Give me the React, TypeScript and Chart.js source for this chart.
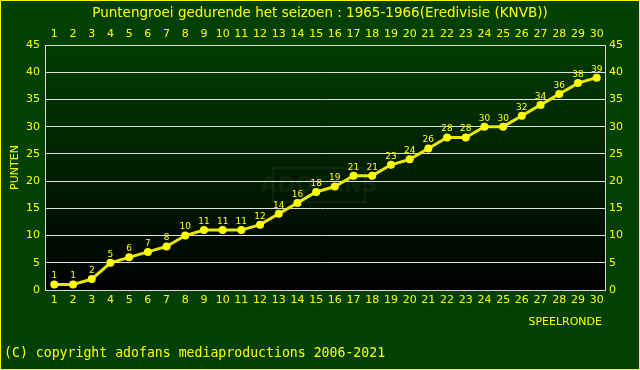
import React, { useEffect, useRef } from "react";
import { Chart, registerables } from "chart.js";

Chart.register(...registerables);

const rounds: string[] = ["1","2","3","4","5","6","7","8","9","10","11","12","13","14","15","16","17","18","19","20","21","22","23","24","25","26","27","28","29","30"];
const points: number[] = [1,1,2,5,6,7,8,10,11,11,11,12,14,16,18,19,21,21,23,24,26,28,28,30,30,32,34,36,38,39];
const titleText = "Puntengroei gedurende het seizoen : 1965-1966(Eredivisie (KNVB))";
const yTitle = "PUNTEN";
const xTitle = "SPEELRONDE";
const copyright = "(C) copyright adofans mediaproductions 2006-2021";

const YELLOW = "#ffff00";
const BG = "#004000";

const decorPlugin = {
  id: "decor",
  beforeDraw(chart: any) {
    const { ctx, width, height, chartArea } = chart;
    ctx.save();
    ctx.fillStyle = BG;
    ctx.fillRect(0, 0, width, height);
    const g = ctx.createLinearGradient(0, chartArea.top, 0, chartArea.bottom);
    g.addColorStop(0, "#003d00");
    g.addColorStop(1, "#000000");
    ctx.fillStyle = g;
    ctx.fillRect(chartArea.left, chartArea.top, chartArea.right - chartArea.left, chartArea.bottom - chartArea.top);
    // faint watermark
    ctx.strokeStyle = "rgba(70,90,50,0.18)";
    ctx.lineWidth = 2;
    ctx.strokeRect(273, 168, 92, 34);
    ctx.fillStyle = "rgba(70,90,50,0.18)";
    ctx.font = "bold 22px 'DejaVu Sans'";
    ctx.textAlign = "center";
    ctx.textBaseline = "middle";
    ctx.fillText("ADOFANS", 319, 186);
    ctx.restore();
  },
  afterDraw(chart: any) {
    const { ctx, width, height, chartArea } = chart;
    ctx.save();
    // plot border
    ctx.strokeStyle = "#d8d8d8";
    ctx.lineWidth = 1;
    ctx.strokeRect(chartArea.left + 0.5, chartArea.top + 0.5, chartArea.right - chartArea.left - 1, chartArea.bottom - chartArea.top);
    // outer border
    ctx.strokeStyle = YELLOW;
    ctx.strokeRect(0.5, 0.5, width - 1, height - 1);
    // title
    ctx.fillStyle = YELLOW;
    ctx.font = "13.5px 'DejaVu Sans'";
    ctx.textAlign = "center";
    ctx.textBaseline = "middle";
    ctx.fillText(titleText, width / 2, 13);
    // y title
    ctx.font = "11px 'DejaVu Sans'";
    ctx.save();
    ctx.translate(15, (chartArea.top + chartArea.bottom) / 2);
    ctx.rotate(-Math.PI / 2);
    ctx.fillText(yTitle, 0, 0);
    ctx.restore();
    // x title
    ctx.textAlign = "right";
    ctx.fillText(xTitle, 602, 322);
    // copyright
    ctx.textAlign = "left";
    ctx.font = "13.2px 'DejaVu Sans Mono'";
    ctx.fillText(copyright, 4, 354);
    // data labels
    const meta = chart.getDatasetMeta(0);
    ctx.font = "9px 'DejaVu Sans'";
    ctx.textAlign = "center";
    ctx.textBaseline = "bottom";
    meta.data.forEach((el: any, i: number) => {
      ctx.fillText(String(points[i]), el.x, el.y - 4);
    });
    ctx.restore();
  },
};

export default function App() {
  const ref = useRef<HTMLCanvasElement | null>(null);
  useEffect(() => {
    if (!ref.current) return;
    const tickFont = { family: "DejaVu Sans", size: 11 };
    const chart = new Chart(ref.current, {
      type: "line",
      data: {
        labels: rounds,
        datasets: [
          {
            data: points,
            borderColor: "#e8e800",
            borderWidth: 3,
            backgroundColor: YELLOW,
            pointBackgroundColor: YELLOW,
            pointBorderColor: YELLOW,
            pointRadius: 4,
            pointBorderWidth: 0,
            fill: false,
            tension: 0,
            xAxisID: "x",
            yAxisID: "y",
          },
        ],
      },
      options: {
        animation: false,
        responsive: false,
        maintainAspectRatio: false,
        layout: { padding: 0 },
        plugins: { legend: { display: false }, title: { display: false }, tooltip: { enabled: false } },
        scales: {
          x: {
            type: "category",
            position: "bottom",
            offset: true,
            grid: { display: false, drawTicks: false },
            border: { display: false },
            ticks: { color: YELLOW, font: tickFont, padding: 4, maxRotation: 0, autoSkip: false },
            afterFit: (s: any) => { s.height = 80; },
          },
          x2: {
            type: "category",
            position: "top",
            labels: rounds,
            offset: true,
            grid: { display: false, drawTicks: false },
            border: { display: false },
            ticks: { color: YELLOW, font: tickFont, padding: 4, maxRotation: 0, autoSkip: false },
            afterFit: (s: any) => { s.height = 45; },
          },
          y: {
            position: "left",
            min: 0,
            max: 45,
            grid: { color: "#e0e0e0", drawTicks: false, lineWidth: 1 },
            border: { display: false },
            ticks: { color: YELLOW, font: tickFont, stepSize: 5, padding: 5 },
            afterFit: (s: any) => { s.width = 45; },
          },
          y2: {
            position: "right",
            min: 0,
            max: 45,
            grid: { display: false, drawTicks: false },
            border: { display: false },
            ticks: { color: YELLOW, font: tickFont, stepSize: 5, padding: 3 },
            afterFit: (s: any) => { s.width = 34; },
          },
        },
      } as any,
      plugins: [decorPlugin],
    });
    return () => chart.destroy();
  }, []);
  return (
    <div style={{ position: "absolute", left: 0, top: 0, width: 640, height: 370 }}>
      <canvas ref={ref} width={640} height={370} style={{ width: 640, height: 370, display: "block" }} />
    </div>
  );
}
